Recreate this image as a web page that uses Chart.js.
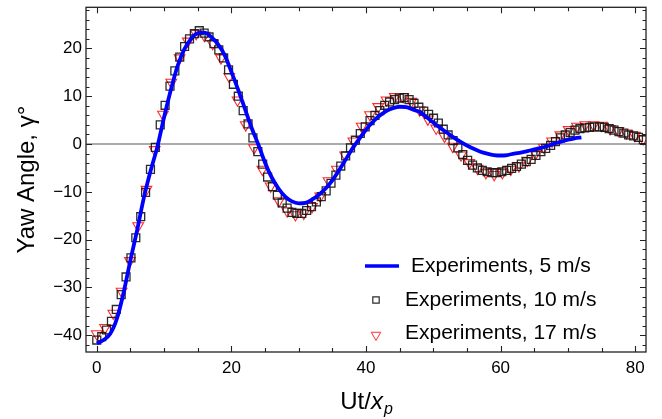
<!DOCTYPE html>
<html><head><meta charset="utf-8">
<script src="https://cdn.jsdelivr.net/npm/chart.js@4.4.0/dist/chart.umd.min.js"></script>
<style>html,body{margin:0;padding:0;background:#fff}#wrap{width:662px;height:419px;position:relative}</style>
</head><body><div id="wrap"><canvas id="c" width="662" height="419"></canvas></div>
<script>
// ---- data ----
const lineX = [0,1,2,3,4,5,6,7,8,9,10,11,12,13,14,15,16,17,18,19,20,21,22,23,24,25,26,27,28,29,30,31,32,33,34,35,36,37,38,39,40,41,42,43,44,45,46,47,48,49,50,51,52,53,54,55,56,57,58,59,60,61,62,63,64,65,66,67,68,69,70,71,72];
const lineY = [-41.7,-41.0,-39.7,-36.5,-31.0,-24.3,-18.0,-11.2,-5.6,-0.6,5.6,11.3,16.3,19.8,22.0,23.2,23.3,22.4,20.9,18.6,15.1,11.4,7.4,3.4,-0.1,-3.9,-7.0,-9.3,-11.0,-12.0,-12.4,-12.3,-11.6,-10.6,-9.3,-7.6,-5.5,-3.2,-0.9,1.1,3.0,4.6,5.9,6.9,7.5,7.8,7.7,7.2,6.7,5.6,4.5,3.4,2.4,1.4,0.5,-0.3,-1.0,-1.6,-2.0,-2.3,-2.4,-2.3,-2.0,-1.8,-1.5,-1.1,-0.8,-0.4,0.1,0.5,0.9,1.2,1.4];

const sqX = [0,0.73,1.45,2.18,2.9,3.63,4.35,5.08,5.8,6.53,7.25,7.98,8.7,9.43,10.15,10.88,11.6,12.33,13.05,13.78,14.5,15.23,15.95,16.68,17.4,18.13,18.85,19.58,20.3,21.03,21.75,22.48,23.2,23.93,24.65,25.38,26.1,26.83,27.55,28.28,29.0,29.73,30.45,31.18,31.9,32.63,33.35,34.08,34.8,35.53,36.25,36.98,37.7,38.43,39.15,39.88,40.6,41.33,42.05,42.78,43.5,44.23,44.95,45.68,46.4,47.13,47.85,48.58,49.3,50.03,50.75,51.48,52.2,52.93,53.65,54.38,55.1,55.83,56.55,57.28,58.0,58.73,59.45,60.18,60.9,61.63,62.35,63.08,63.8,64.53,65.25,65.98,66.7,67.43,68.15,68.88,69.6,70.33,71.05,71.78,72.5,73.23,73.95,74.68,75.4,76.13,76.85,77.58,78.3,79.03,79.75,80.48,81.2];
const sqY = [-41.0,-40.3,-38.9,-37.1,-34.6,-31.5,-27.8,-23.8,-19.6,-15.2,
-10.1,-5.3,-0.7,4.0,8.1,12.1,15.3,18.2,20.4,22.0,
23.1,23.7,23.2,22.4,21.0,19.7,18.0,15.5,12.5,10.0,
7.0,4.2,1.3,-1.6,-4.2,-6.9,-8.9,-10.7,-12.3,-13.4,
-14.3,-14.5,-14.5,-13.9,-13.1,-12.1,-11.0,-9.8,-8.2,-6.5,
-4.6,-2.5,-0.8,0.8,2.2,3.6,4.9,6.0,7.0,8.1,
8.8,9.3,9.6,9.7,9.3,8.5,7.7,6.9,6.2,5.4,
4.4,3.1,1.9,0.7,-0.8,-2.2,-3.4,-4.4,-5.0,-5.5,
-5.8,-6.0,-6.0,-5.8,-5.5,-5.1,-4.7,-4.2,-3.7,-3.2,
-2.4,-1.6,-0.9,-0.3,0.5,1.3,1.9,2.4,2.9,3.2,
3.4,3.5,3.6,3.6,3.5,3.2,2.9,2.6,2.3,1.9,
1.7,1.4,0.9];

const triX = [0,1.23,2.46,3.69,4.92,6.15,7.38,8.61,9.84,11.07,12.3,13.53,14.76,15.99,17.22,18.45,19.68,20.91,22.14,23.37,24.6,25.83,27.06,28.29,29.52,30.75,31.98,33.21,34.44,35.67,36.9,38.13,39.36,40.59,41.82,43.05,44.28,45.51,46.74,47.97,49.2,50.43,51.66,52.89,54.12,55.35,56.58,57.81,59.04,60.27,61.5,62.73,63.96,65.19,66.42,67.65,68.88,70.11,71.34,72.57,73.8,75.03,76.26,77.49,78.72,79.95,81.18];
const triY = [-39.7,-38.4,-35.4,-30.8,-24.4,-17.1,-9.5,-1.2,6.2,12.9,
18.0,21.5,23.1,22.7,21.0,18.0,14.1,9.2,4.0,-0.8,
-5.3,-8.8,-11.9,-14.0,-14.8,-14.5,-13.1,-10.9,-7.7,-5.3,
-2.3,0.6,3.7,6.1,7.8,9.2,9.9,9.9,8.9,7.1,
5.2,3.3,1.6,-0.5,-2.3,-3.9,-5.1,-6.0,-6.4,-6.0,
-5.3,-4.6,-3.4,-2.0,-0.7,0.6,1.9,3.0,3.7,4.0,
4.0,3.9,3.2,2.8,2.3,1.8,1.1];

const xMajor = [0,20,40,60,80];
const xMinor = [0,5,10,15,20,25,30,35,40,45,50,55,60,65,70,75,80];
const yMajor = [-40,-30,-20,-10,0,10,20];
const yMinor = [-42,-40,-38,-36,-34,-32,-30,-28,-26,-24,-22,-20,-18,-16,-14,-12,-10,-8,-6,-4,-2,0,2,4,6,8,10,12,14,16,18,20,22,24,26,28];
const seriesLabels = ['Experiments, 5 m/s','Experiments, 10 m/s','Experiments, 17 m/s'];
const yTitle = 'Yaw Angle, \u03B3\u00B0';
const xTitleParts = ['Ut/','x','p'];

// ---- styling ----
const FONT = "'Liberation Sans', Arial, Helvetica, sans-serif";
const BLUE = '#0000ff', SQC = 'rgba(20,20,20,0.9)', TRC = '#ff2a2a';
const pts = (xs, ys) => xs.map((x, i) => ({x: x, y: ys[i]}));
const fmt = v => v < 0 ? '\u2212' + Math.abs(v) : String(v);

const decor = {
  id: 'decor',
  beforeDatasetsDraw(chart) {
    const {ctx, chartArea: a, scales: {y}} = chart;
    const y0 = y.getPixelForValue(0);
    ctx.save();
    ctx.strokeStyle = '#8f8f8f'; ctx.lineWidth = 1.5;
    ctx.beginPath(); ctx.moveTo(a.left, y0); ctx.lineTo(a.right, y0); ctx.stroke();
    ctx.restore();
  },
  afterDraw(chart) {
    const {ctx, chartArea: a, scales: {x, y}} = chart;
    ctx.save();
    // frame
    ctx.strokeStyle = '#222'; ctx.lineWidth = 1.3;
    ctx.strokeRect(a.left, a.top, a.right - a.left, a.bottom - a.top);
    // inward ticks
    ctx.lineWidth = 1.1;
    ctx.beginPath();
    xMinor.forEach(v => {
      const p = Math.round(x.getPixelForValue(v)) + 0.5;
      const L = xMajor.includes(v) ? 6 : 4;
      ctx.moveTo(p, a.bottom); ctx.lineTo(p, a.bottom - L);
      ctx.moveTo(p, a.top); ctx.lineTo(p, a.top + L);
    });
    yMinor.forEach(v => {
      const p = Math.round(y.getPixelForValue(v)) + 0.5;
      const L = yMajor.includes(v) ? 6 : 3.5;
      ctx.moveTo(a.left, p); ctx.lineTo(a.left + L, p);
      ctx.moveTo(a.right, p); ctx.lineTo(a.right - L, p);
    });
    ctx.stroke();

    // x title
    ctx.fillStyle = '#000';
    ctx.textBaseline = 'alphabetic';
    const f1 = '24px ' + FONT, f2 = 'italic 24px ' + FONT, f3 = 'italic 16px ' + FONT;
    ctx.font = f1; const w1 = ctx.measureText(xTitleParts[0]).width;
    ctx.font = f2; const w2 = ctx.measureText(xTitleParts[1]).width;
    ctx.font = f3; const w3 = ctx.measureText(xTitleParts[2]).width;
    let sx = (a.left + a.right) / 2 - (w1 + w2 + w3) / 2;
    const by = 409;
    ctx.textAlign = 'left';
    ctx.font = f1; ctx.fillText(xTitleParts[0], sx, by); sx += w1;
    ctx.font = f2; ctx.fillText(xTitleParts[1], sx, by); sx += w2 + 1;
    ctx.font = f3; ctx.fillText(xTitleParts[2], sx, by + 5);

    // y title
    ctx.save();
    ctx.translate(27, (a.top + a.bottom) / 2);
    ctx.rotate(-Math.PI / 2);
    ctx.textAlign = 'center'; ctx.textBaseline = 'middle';
    ctx.font = '24px ' + FONT;
    ctx.fillText(yTitle, 0, 0);
    ctx.restore();

    // legend
    ctx.font = '21px ' + FONT;
    ctx.textAlign = 'left'; ctx.textBaseline = 'middle';
    const r1 = a.bottom - 86, r2 = a.bottom - 52, r3 = a.bottom - 17;
    ctx.strokeStyle = BLUE; ctx.lineWidth = 3.5;
    ctx.beginPath(); ctx.moveTo(a.right - 281, r1); ctx.lineTo(a.right - 247, r1); ctx.stroke();
    ctx.fillStyle = '#000';
    ctx.fillText(seriesLabels[0], a.right - 235, r1);
    ctx.fillText(seriesLabels[1], a.right - 241, r2);
    ctx.fillText(seriesLabels[2], a.right - 241, r3 - 2);
    const mx = a.right - 270;
    ctx.fillStyle = 'rgba(0,0,0,0)';
    ctx.strokeStyle = SQC; ctx.lineWidth = 1.2;
    Chart.helpers.drawPoint(ctx, {pointStyle: 'rect', radius: 4.5, rotation: 0, borderWidth: 1.2}, mx, r2);
    ctx.strokeStyle = TRC; ctx.lineWidth = 1;
    Chart.helpers.drawPoint(ctx, {pointStyle: 'triangle', radius: 5.5, rotation: 180, borderWidth: 1}, mx, r3);
    ctx.restore();
  }
};

new Chart(document.getElementById('c').getContext('2d'), {
  type: 'scatter',
  data: {
    datasets: [
      {label: seriesLabels[0], data: pts(lineX, lineY), showLine: true, borderColor: BLUE, borderWidth: 3.8,
       pointRadius: 0, cubicInterpolationMode: 'monotone', fill: false},
      {label: seriesLabels[1], data: pts(sqX, sqY), showLine: false, pointStyle: 'rect', pointRadius: 5.6,
       borderColor: SQC, backgroundColor: 'rgba(0,0,0,0)', pointBorderWidth: 1.3, borderWidth: 1.3},
      {label: seriesLabels[2], data: pts(triX, triY), showLine: false, pointStyle: 'triangle', pointRotation: 180,
       pointRadius: 6.2, borderColor: TRC, backgroundColor: 'rgba(0,0,0,0)', pointBorderWidth: 1.1, borderWidth: 1.1}
    ]
  },
  options: {
    responsive: false, animation: false, devicePixelRatio: 1,
    layout: {padding: {left: 0, right: 16, top: 5, bottom: 0}},
    plugins: {legend: {display: false}, tooltip: {enabled: false}},
    scales: {
      x: {type: 'linear', min: -1.6, max: 81.6,
          grid: {display: false, drawTicks: false}, border: {display: false},
          afterBuildTicks: s => { s.ticks = xMajor.map(v => ({value: v})); },
          afterFit: s => { s.height = 67; s.paddingLeft = 0; s.paddingRight = 0; },
          ticks: {font: {family: FONT, size: 17}, color: '#000', padding: 6, maxRotation: 0, autoSkip: false,
                  callback: v => fmt(v)}},
      y: {type: 'linear', min: -43.5, max: 28.6,
          grid: {display: false, drawTicks: false}, border: {display: false},
          afterBuildTicks: s => { s.ticks = yMajor.map(v => ({value: v})); },
          afterFit: s => { s.width = 86; s.paddingTop = 0; s.paddingBottom = 0; },
          ticks: {font: {family: FONT, size: 17}, color: '#000', padding: 4, autoSkip: false,
                  callback: v => fmt(v)}}
    }
  },
  plugins: [decor]
});
</script></body></html>
